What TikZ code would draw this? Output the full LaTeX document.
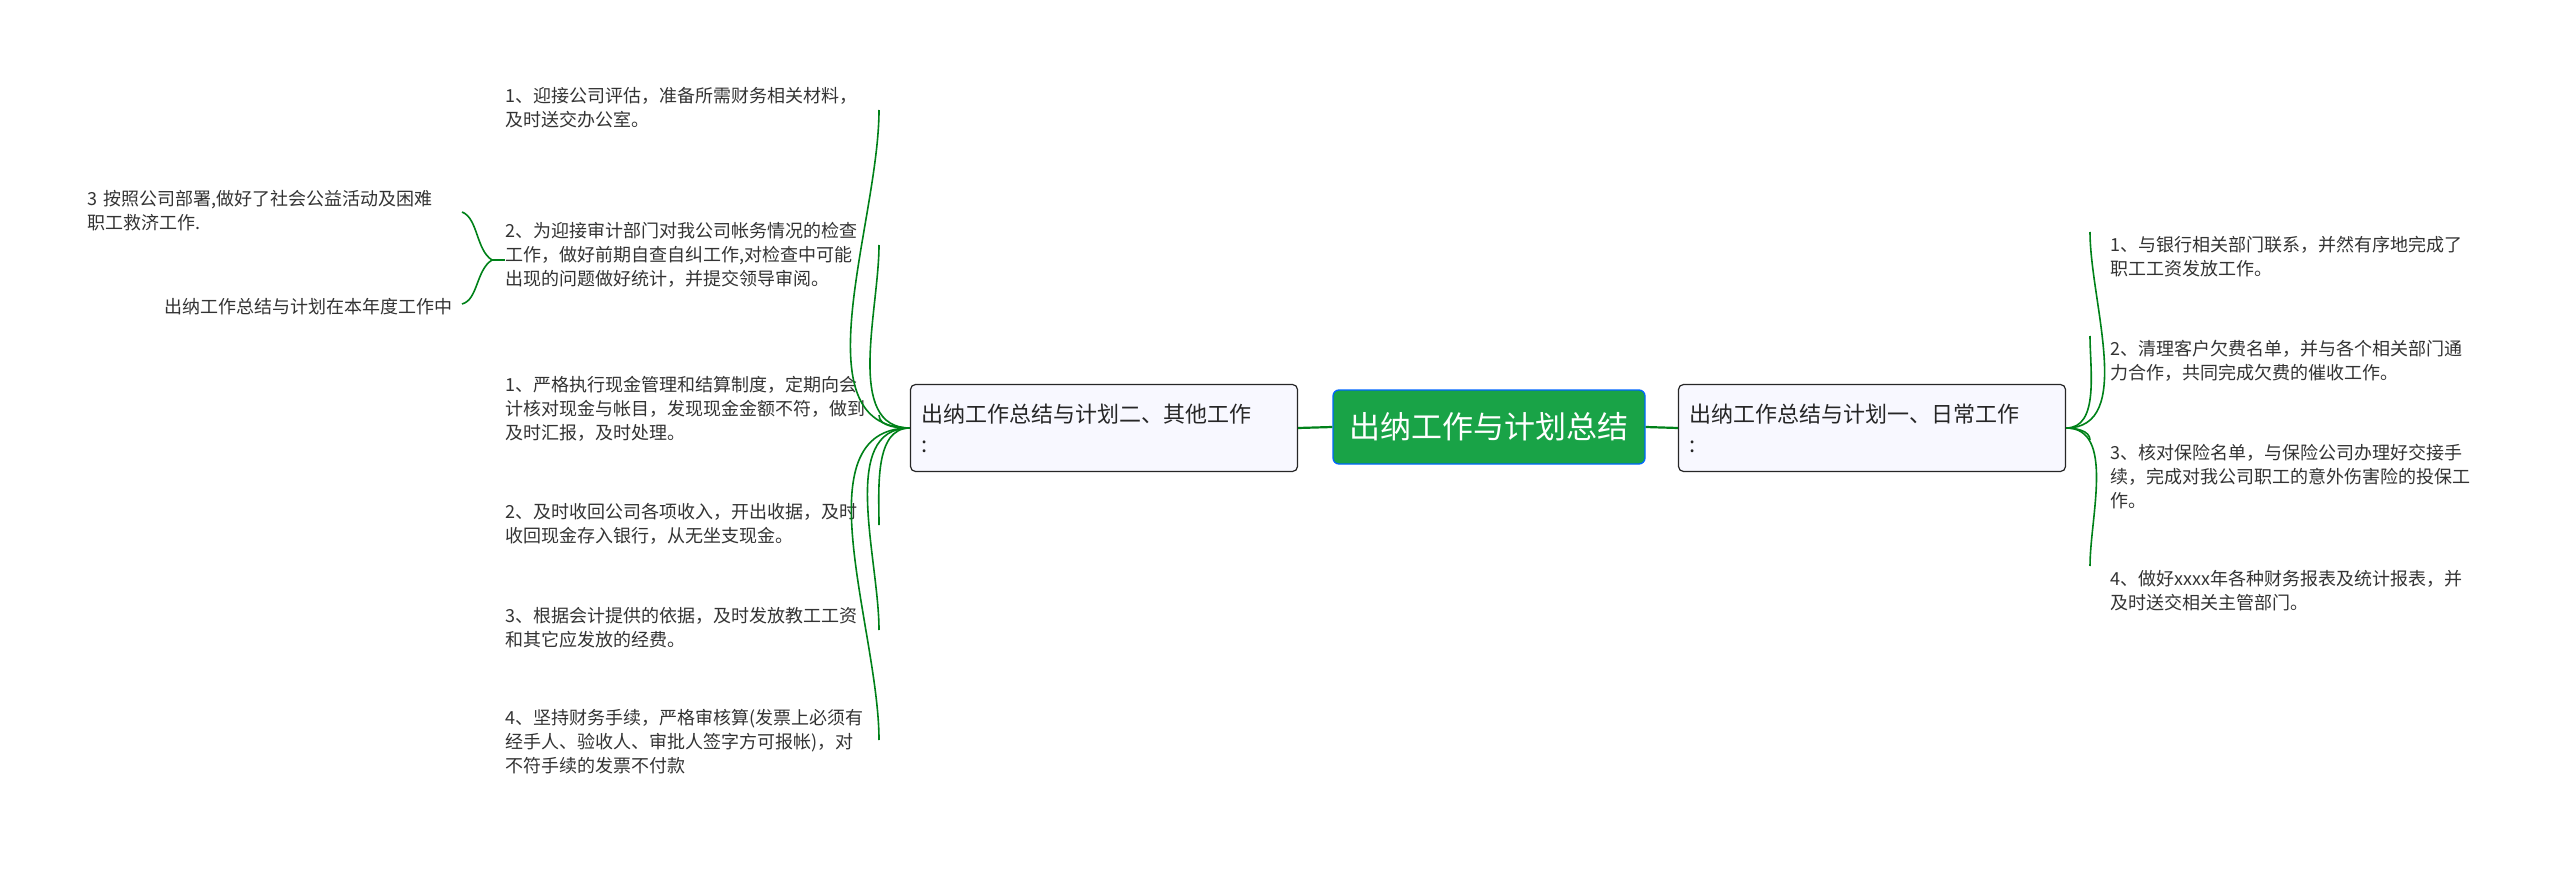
\documentclass[tikz,border=0pt]{standalone}
\usepackage{fontspec}
\setmainfont{Noto Sans CJK SC}
\begin{document}
\begin{tikzpicture}[x=1pt,y=-1pt,
  leaf/.style={inner sep=0pt,text width=#1,align=left,font=\fontsize{18}{24}\selectfont,text=black!80,anchor=north west},
  leaf/.default=380pt,
  box/.style={draw=black!85,line width=1.2pt,fill=gray!10!blue!3,rounded corners=5pt,minimum width=387pt,minimum height=87pt,text width=365pt,align=left,font=\fontsize{22}{30}\selectfont,text=black!85},
  link/.style={draw=green!45!black!90!cyan,line width=2.2pt},
  twig/.style={draw=green!45!black!90!cyan,line width=1.6pt}]
\useasboundingbox (0,0) rectangle (2560,869);
\node[fill=green!50!black!80!cyan!90,draw=blue!60!cyan,line width=1.3pt,rounded corners=6pt,minimum width=312pt,minimum height=74pt,font=\fontsize{31}{36}\selectfont,text=white] (c) at (1489,427) {出纳工作与计划总结};
\node[box] (rb) at (1872,428) {出纳工作总结与计划一、日常工作\\:};
\node[box] (lb) at (1104,428) {出纳工作总结与计划二、其他工作\\:};
\draw[link] (c.east) -- (rb.west);
\draw[link] (c.west) -- (lb.west -| lb.east);
% right leaves
\node[leaf=380pt] (r1) at (2110,236) {1、与银行相关部门联系，并然有序地完成了\\职工工资发放工作。};
\node[leaf=380pt] (r2) at (2110,340) {2、清理客户欠费名单，并与各个相关部门通\\力合作，共同完成欠费的催收工作。};
\node[leaf=380pt] (r3) at (2110,444) {3、核对保险名单，与保险公司办理好交接手\\续，完成对我公司职工的意外伤害险的投保工\\作。};
\node[leaf=380pt] (r4) at (2110,570) {4、做好xxxx年各种财务报表及统计报表，并\\及时送交相关主管部门。};
\foreach \n/\a in {r1/-90,r2/-90,r3/90,r4/90}
  \draw[twig] (rb.east) to[out=0,in=\a,looseness=0.9] ([xshift=-20pt,yshift=4pt]\n.north west);
% left leaves
\node[leaf] (l1) at (505,87) {1、迎接公司评估，准备所需财务相关材料，\\及时送交办公室。};
\node[leaf] (l2) at (505,222) {2、为迎接审计部门对我公司帐务情况的检查\\工作，做好前期自查自纠工作,对检查中可能\\出现的问题做好统计，并提交领导审阅。};
\node[leaf] (l3) at (505,376) {1、严格执行现金管理和结算制度，定期向会\\计核对现金与帐目，发现现金金额不符，做到\\及时汇报，及时处理。};
\node[leaf] (l4) at (505,503) {2、及时收回公司各项收入，开出收据，及时\\收回现金存入银行，从无坐支现金。};
\node[leaf] (l5) at (505,607) {3、根据会计提供的依据，及时发放教工工资\\和其它应发放的经费。};
\node[leaf] (l6) at (505,709) {4、坚持财务手续，严格审核算(发票上必须有\\经手人、验收人、审批人签字方可报帐)，对\\不符手续的发票不付款};
\coordinate (e1) at (879,110);
\coordinate (e2) at (879,245);
\coordinate (e3) at (879,415);
\coordinate (e4) at (879,525);
\coordinate (e5) at (879,630);
\coordinate (e6) at (879,740);
\foreach \n/\a in {e1/-90,e2/-90,e3/-90,e4/90,e5/90,e6/90}
  \draw[twig] (lb.west) to[out=180,in=\a,looseness=0.9] (\n);
% brace children
\node[leaf=380pt,anchor=north west] (b1) at (87,190) {3 按照公司部署,做好了社会公益活动及困难\\职工救济工作.};
\node[inner sep=0pt,anchor=east,font=\fontsize{18}{24}\selectfont,text=black!80] (b2) at (453,307) {出纳工作总结与计划在本年度工作中};
\coordinate (bt) at (462,212);
\coordinate (bb) at (462,304);
\draw[twig] (bt) .. controls (478,218) and (476,250) .. (492,260) .. controls (476,270) and (478,300) .. (bb);
\draw[twig] (492,260) -- (l2.west |- 492,260);
\end{tikzpicture}
\end{document}
